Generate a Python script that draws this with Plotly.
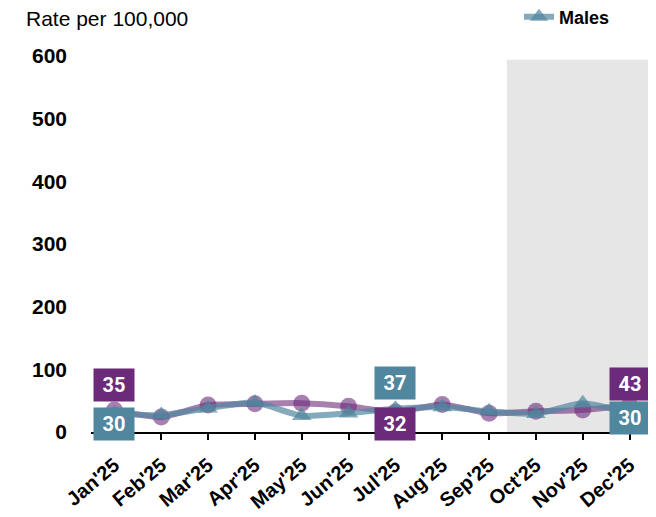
import plotly.graph_objects as go

months = ["Jan'25", "Feb'25", "Mar'25", "Apr'25", "May'25", "Jun'25",
          "Jul'25", "Aug'25", "Sep'25", "Oct'25", "Nov'25", "Dec'25"]
females = [35, 24, 43, 45, 46, 41, 32, 44, 30, 33, 35, 43]
males = [30, 27, 38, 47, 26, 30, 37, 40, 33, 29, 46, 30]
y_ticks = [0, 100, 200, 300, 400, 500, 600]

PURPLE = "rgb(108,43,122)"
TEAL = "rgb(80,134,158)"
FONT = "Liberation Sans, Arial, sans-serif"

# the page adds an 8px body margin, so the figure is drawn 8px smaller
W, H = 648, 509
L, R, T, B = 83, 3, 48, 85
PW, PH = W - L - R, H - T - B

fig = go.Figure()
x_idx = list(range(len(months)))

fig.add_trace(go.Scatter(
    x=x_idx, y=females, name="Females", mode="lines+markers",
    line=dict(color="rgba(108,43,122,0.6)", width=6, shape="spline", smoothing=0.6),
    marker=dict(symbol="circle", size=17, color="rgba(108,43,122,0.6)"),
    showlegend=False,
))
fig.add_trace(go.Scatter(
    x=x_idx, y=males, name="<b>Males</b>", mode="lines+markers",
    line=dict(color="rgba(80,134,158,0.7)", width=6, shape="spline", smoothing=0.6),
    marker=dict(symbol="triangle-up", size=17, color="rgba(80,134,158,0.7)"),
))

fig.add_shape(type="rect", xref="x", yref="y", x0=8.38, x1=11.5, y0=0, y1=594,
              fillcolor="rgb(230,230,230)", line=dict(width=0), layer="below")

labels = [
    (0, females[0], PURPLE, 25),
    (0, males[0], TEAL, -11),
    (6, males[6], TEAL, 26),
    (6, females[6], PURPLE, -12),
    (11, females[11], PURPLE, 21),
    (11, males[11], TEAL, -5),
]
for xi, v, c, shift in labels:
    fig.add_annotation(x=xi, y=v, xref="x", yref="y", text=f"<b>{v}</b>",
                       showarrow=False, yshift=shift, bgcolor=c,
                       font=dict(family="Roboto, Liberation Sans, sans-serif", size=20, color="white"),
                       width=40, height=32, borderpad=0)

fig.update_layout(
    width=W, height=H,
    margin=dict(l=L, r=R, t=T, b=B, autoexpand=False),
    paper_bgcolor="white", plot_bgcolor="white",
    font=dict(family=FONT, size=20, color="black"),
    legend=dict(x=(511 - L) / PW, y=1 + (T - 9) / PH, xref="paper", yref="paper",
                xanchor="left", yanchor="middle", orientation="h",
                font=dict(family=FONT, size=18, color="black"), bgcolor="rgba(0,0,0,0)"),
    title=dict(text="Rate per 100,000", x=18 / W, xanchor="left",
               y=1 - 10.5 / H, yanchor="middle",
               font=dict(family=FONT, size=21, color="black")),
)

fig.update_xaxes(
    tickmode="array", tickvals=x_idx, ticktext=[f"<b>{m}</b>" for m in months],
    tickangle=-40, range=[-0.5, 11.5], tickson="boundaries",
    ticks="outside", ticklen=6, tickcolor="black", tickwidth=1.5,
    showline=True, linecolor="black", linewidth=1.5, showgrid=False, zeroline=False,
    tickfont=dict(family=FONT, size=20, color="black"), ticklabelstandoff=6,
)
fig.update_yaxes(
    tickmode="array", tickvals=y_ticks, ticktext=[f"<b>{t}</b>" for t in y_ticks],
    range=[0, 600], showgrid=False, zeroline=False, showline=False, ticks="",
    tickfont=dict(family=FONT, size=21, color="black"), ticklabelstandoff=23,
)

fig.write_html("out.html")
